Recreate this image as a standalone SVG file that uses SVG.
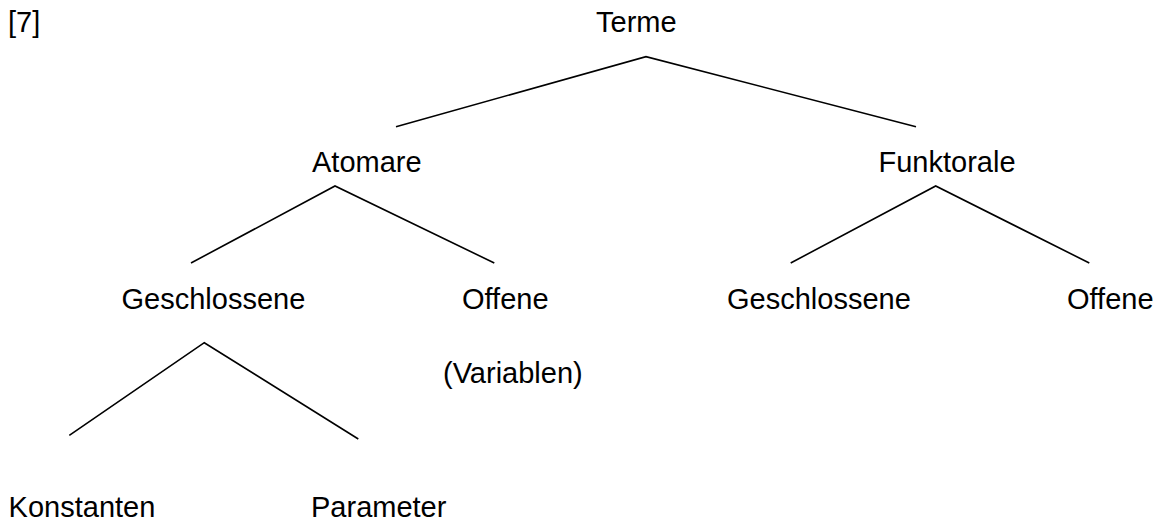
<svg xmlns="http://www.w3.org/2000/svg" width="1161" height="521" viewBox="0 0 1161 521">
<style>
text { font-family: "Liberation Sans", Arial, sans-serif; font-size: 29px; fill: #000; }
.edge { stroke: #000; stroke-width: 1.6; fill: none; stroke-linecap: butt; }
</style>
<rect width="1161" height="521" fill="#fff"/>
<g id="label-7"><text x="8" y="32">[7]</text></g>
<g id="connectors">
<polyline class="edge" points="396,126.7 646,56.7 916,126.7"/>
<polyline class="edge" points="191,263 335,186 494.3,263"/>
<polyline class="edge" points="790.7,263 935.7,186 1089.3,263"/>
<polyline class="edge" points="69.3,435.3 204.3,342.7 358.3,439"/>
</g>
<g id="node-terme"><text x="596" y="32">Terme</text></g>
<g id="node-atomare"><text x="312" y="172">Atomare</text></g>
<g id="node-funktorale"><text x="878.5" y="171.5">Funktorale</text></g>
<g id="node-geschlossene-a"><text x="121.5" y="309.3">Geschlossene</text></g>
<g id="node-offene-a"><text x="462" y="309.3">Offene</text><text x="443" y="383">(Variablen)</text></g>
<g id="node-geschlossene-f"><text x="727" y="309.3">Geschlossene</text></g>
<g id="node-offene-f"><text x="1067" y="309.3">Offene</text></g>
<g id="node-konstanten"><text x="8.6" y="516.7">Konstanten</text></g>
<g id="node-parameter"><text x="311" y="516.7">Parameter</text></g>
</svg>
